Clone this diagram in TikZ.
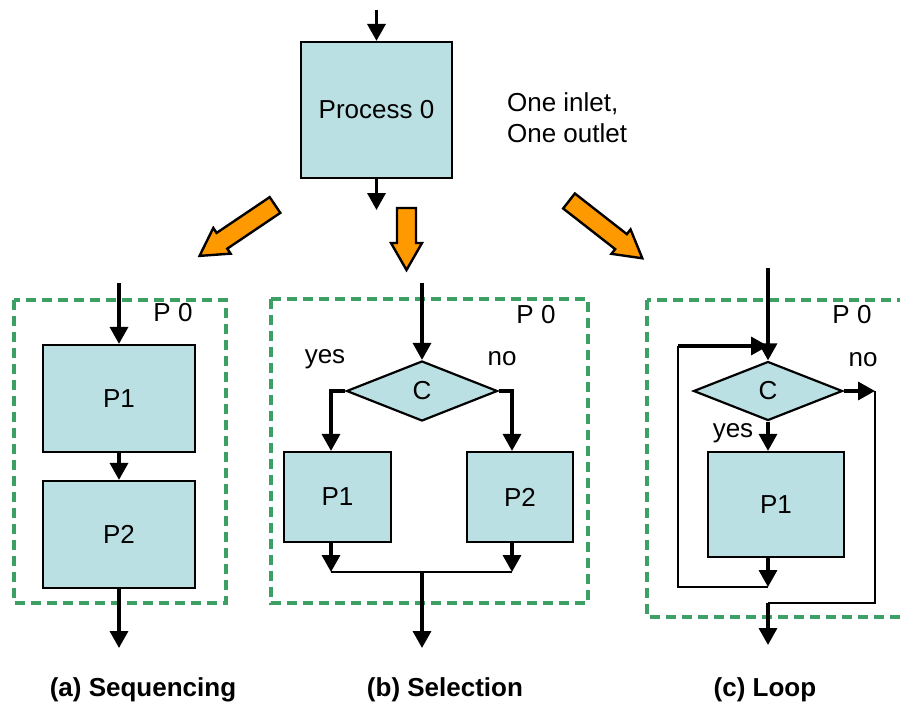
\documentclass[tikz,border=0pt]{standalone}
\usepackage{fontspec}
\setmainfont{Liberation Sans}
\usetikzlibrary{arrows.meta,shapes.geometric}
\definecolor{boxblue}{RGB}{187,224,227}
\definecolor{fatorange}{RGB}{255,153,0}
\definecolor{framegreen}{RGB}{60,160,100}
\tikzset{
  proc/.style={draw, line width=1.1pt, fill=boxblue, inner sep=2pt},
  cond/.style={diamond, draw, line width=1.1pt, fill=boxblue, inner sep=0pt},
  flow/.style={line width=1.7pt, -{Triangle[length=8.5pt,width=9pt]}},
  wire/.style={line width=1.4pt},
  frame/.style={draw=framegreen, line width=1.6pt, dash pattern=on 5pt off 3pt},
  caption/.style={font=\fontsize{13}{15.5}\selectfont\bfseries}
}
\begin{document}
\begin{tikzpicture}[x=0.5pt,y=-0.5pt,font=\fontsize{13}{15.5}\selectfont]
  %\draw[help lines] (0,0) grid[step=50] (900,707);
  \clip (0,0) rectangle (900,707);
  \fill[white] (0,0) rectangle (900,707);

  % top process
  \node[proc, minimum width=75.5pt, minimum height=68pt] (p0) at (376.5,110) {Process 0};
  \coordinate (p0in) at (376.5,10);
  \coordinate (p0out) at (376.5,210);
  \draw[flow] (p0in) -- (p0.north);
  \draw[flow] (p0.south) -- (p0out);
  \node[anchor=west, align=left] (note) at (500,118) {One inlet,\\One outlet};

  % orange arrows
  \foreach \x/\y/\a/\l in {275/205/214/91, 406.5/208/270/62, 569/201/322/93} {
    \begin{scope}[shift={(\x,\y)}, rotate=\a]
      \draw[fill=fatorange, line width=1.2pt, line join=miter]
        (0,-9.5) -- (\l-27,-9.5) -- (\l-27,-15.5) -- (\l,0)
        -- (\l-27,15.5) -- (\l-27,9.5) -- (0,9.5) -- cycle;
    \end{scope}
  }

  % (a) sequencing
  \draw[frame] (14,300) rectangle (226,603);
  \node (ap0) at (173,313) {P 0};
  \node[proc, minimum width=76pt, minimum height=53.5pt] (a1) at (119,398.5) {P1};
  \node[proc, minimum width=76pt, minimum height=53.5pt] (a2) at (119,534.5) {P2};
  \coordinate (ain) at (119,283);
  \coordinate (aout) at (119,648);
  \draw[flow] (ain) -- (a1.north);
  \draw[flow] (a1.south) -- (a2.north);
  \draw[flow] (a2.south) -- (aout);

  % (b) selection
  \draw[frame] (271,299) rectangle (588,603);
  \node (bp0) at (536,315) {P 0};
  \node[cond, minimum width=75.5pt, minimum height=30pt] (bc) at (422,391) {C};
  \node[proc, minimum width=53.5pt, minimum height=45pt] (b1) at (337.5,497) {P1};
  \node[proc, minimum width=53pt, minimum height=45pt] (b2) at (520,497) {P2};
  \node (byes) at (325,359) {yes};
  \node (bno) at (502,359) {no};
  \coordinate (bin) at (422,283);
  \coordinate (bl) at (331,391);
  \coordinate (br) at (512,391);
  \coordinate (bm) at (422,572);
  \coordinate (bout) at (422,648);
  \draw[flow] (bin) -- (bc.north);
  \draw[flow] (bc.west) -- (bl) -- (bl |- b1.north);
  \draw[flow] (bc.east) -- (br) -- (br |- b2.north);
  \draw[flow] (bl |- b1.south) -- (bl |- bm);
  \draw[flow] (br |- b2.south) -- (br |- bm);
  \draw[wire] (bl |- bm) -- (br |- bm);
  \draw[flow] (bm) -- (bout);

  % (c) loop
  \draw[frame] (647,300) rectangle (940,617);
  \node (cp0) at (852,315) {P 0};
  \node[cond, minimum width=74.5pt, minimum height=29.5pt] (cc) at (768,391) {C};
  \node[proc, minimum width=68pt, minimum height=52.5pt] (c1) at (776,504.5) {P1};
  \node (cyes) at (733,433) {yes};
  \node (cno) at (863,360) {no};
  \coordinate (cin) at (768,268);
  \coordinate (cb) at (768,587);
  \coordinate (cl) at (678,587);
  \coordinate (cj) at (768,346);
  \coordinate (cr) at (875,391);
  \coordinate (cx) at (768,603);
  \coordinate (cout) at (768,645);
  \draw[flow] (cin) -- (cc.north);
  \draw[flow] (cc.south) -- (cc.south |- c1.north);
  \draw[flow] (cc.south |- c1.south) -- (cb);
  \draw[wire] (cb) -- (cl) -- (cl |- cj);
  \draw[flow] (cl |- cj) -- (cj);
  \draw[flow] (cc.east) -- (cr);
  \draw[wire] (cr) |- (cx);
  \draw[flow] (cx) -- (cout);

  % captions
  \node[caption] (capa) at (143,690) {(a) Sequencing};
  \node[caption] (capb) at (445,690) {(b) Selection};
  \node[caption] (capc) at (765,690) {(c) Loop};
\end{tikzpicture}
\end{document}
